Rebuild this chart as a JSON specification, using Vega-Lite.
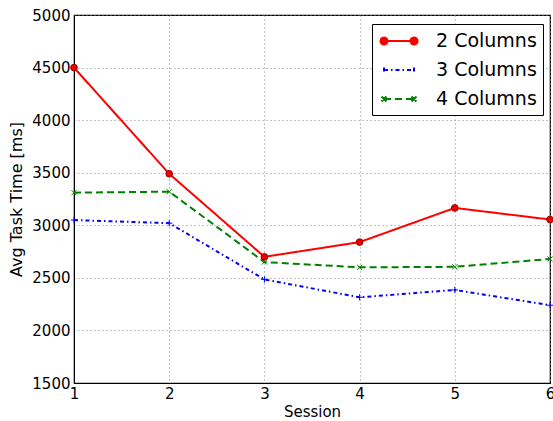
{
  "$schema": "https://vega.github.io/schema/vega-lite/v6.json",
  "width": 476,
  "height": 368,
  "autosize": "none",
  "padding": {"left": 74, "top": 15, "right": 3, "bottom": 38},
  "background": "white",
  "config": {
    "font": "DejaVu Sans",
    "view": {"stroke": "black", "strokeWidth": 1.2},
    "axis": {
      "labelFont": "DejaVu Sans",
      "titleFont": "DejaVu Sans",
      "labelFontSize": 15,
      "titleFontSize": 15,
      "titleFontWeight": "normal",
      "labelColor": "black",
      "titleColor": "black",
      "domainColor": "black",
      "ticks": false,
      "format": "d",
      "gridColor": "#808080",
      "gridDash": [1, 3],
      "gridWidth": 1,
      "gridOpacity": 0.9
    }
  },
  "data": {
    "values": [
      {"session": 1, "series": "2 Columns", "time": 4500},
      {"session": 2, "series": "2 Columns", "time": 3490},
      {"session": 3, "series": "2 Columns", "time": 2700},
      {"session": 4, "series": "2 Columns", "time": 2840},
      {"session": 5, "series": "2 Columns", "time": 3165},
      {"session": 6, "series": "2 Columns", "time": 3055},
      {"session": 1, "series": "3 Columns", "time": 3050},
      {"session": 2, "series": "3 Columns", "time": 3020},
      {"session": 3, "series": "3 Columns", "time": 2485},
      {"session": 4, "series": "3 Columns", "time": 2315},
      {"session": 5, "series": "3 Columns", "time": 2385},
      {"session": 6, "series": "3 Columns", "time": 2240},
      {"session": 1, "series": "4 Columns", "time": 3310},
      {"session": 2, "series": "4 Columns", "time": 3320},
      {"session": 3, "series": "4 Columns", "time": 2650},
      {"session": 4, "series": "4 Columns", "time": 2600},
      {"session": 5, "series": "4 Columns", "time": 2605},
      {"session": 6, "series": "4 Columns", "time": 2680}
    ]
  },
  "encoding": {
    "x": {
      "field": "session",
      "type": "quantitative",
      "scale": {"domain": [1, 6], "nice": false, "zero": false},
      "axis": {"values": [1, 2, 3, 4, 5, 6], "title": "Session", "labelPadding": 3, "titlePadding": 3, "labelFlush": false}
    },
    "y": {
      "field": "time",
      "type": "quantitative",
      "scale": {"domain": [1500, 5000], "nice": false, "zero": false},
      "axis": {"values": [1500, 2000, 2500, 3000, 3500, 4000, 4500, 5000], "title": "Avg Task Time [ms]", "titleFontSize": 16, "labelPadding": 4, "titlePadding": 7}
    }
  },
  "layer": [
    {
      "mark": {"type": "line", "strokeWidth": 2},
      "encoding": {
        "color": {
          "field": "series",
          "type": "nominal",
          "scale": {"domain": ["2 Columns", "3 Columns", "4 Columns"], "range": ["#ff0000", "#0000ff", "#008000"]},
          "legend": {
            "title": null,
            "orient": "none",
            "legendX": 298,
            "legendY": 9,
            "labelFontSize": 19,
            "labelFont": "DejaVu Sans",
            "labelColor": "black",
            "symbolType": "M-0.5,0L2.5,0",
            "symbolSize": 400,
            "symbolStrokeWidth": 2,
            "rowPadding": 8,
            "labelOffset": 36,
            "padding": 6,
            "strokeColor": "black",
            "fillColor": "white",
            "encode": {
              "symbols": {
                "update": {
                  "shape": {"signal": "datum.value === '2 Columns' ? 'M-0.5,0L2.5,0M-0.85,0a0.35,0.35 0 1,0 0.7,0a0.35,0.35 0 1,0 -0.7,0M2.15,0a0.35,0.35 0 1,0 0.7,0a0.35,0.35 0 1,0 -0.7,0' : datum.value === '3 Columns' ? 'M-0.5,0L2.5,0M-0.5,-0.25L-0.5,0.25M2.5,-0.25L2.5,0.25' : 'M-0.5,0L2.5,0M-0.75,-0.25L-0.25,0.25M-0.75,0.25L-0.25,-0.25M2.25,-0.25L2.75,0.25M2.25,0.25L2.75,-0.25'"},
                  "fill": {"signal": "datum.value === '2 Columns' ? '#ee0000' : 'transparent'"},
                  "strokeDash": {"signal": "datum.value === '3 Columns' ? [4, 3, 1.5, 3] : datum.value === '4 Columns' ? [7, 4] : [1, 0]"}
                }
              }
            }
          }
        },
        "strokeDash": {
          "field": "series",
          "type": "nominal",
          "scale": {"domain": ["2 Columns", "3 Columns", "4 Columns"], "range": [[1, 0], [4, 3, 1.5, 3], [7, 4]]},
          "legend": null
        }
      }
    },
    {
      "transform": [{"filter": "datum.series === '2 Columns'"}],
      "mark": {"type": "point", "shape": "circle", "filled": true, "size": 45, "fill": "#ee0000", "stroke": "#990000", "strokeWidth": 1, "opacity": 1}
    },
    {
      "transform": [{"filter": "datum.series !== '2 Columns'"}],
      "mark": {"type": "point", "filled": false, "size": 40, "strokeWidth": 1, "opacity": 1},
      "encoding": {
        "shape": {
          "field": "series",
          "type": "nominal",
          "scale": {"domain": ["3 Columns", "4 Columns"], "range": ["M-1,0L1,0M0,-1L0,1", "M-0.8,-0.8L0.8,0.8M-0.8,0.8L0.8,-0.8"]},
          "legend": null
        },
        "stroke": {
          "field": "series",
          "type": "nominal",
          "scale": {"domain": ["3 Columns", "4 Columns"], "range": ["#0000ff", "#008000"]},
          "legend": null
        }
      }
    }
  ],
  "resolve": {"scale": {"stroke": "independent", "color": "independent"}}
}
